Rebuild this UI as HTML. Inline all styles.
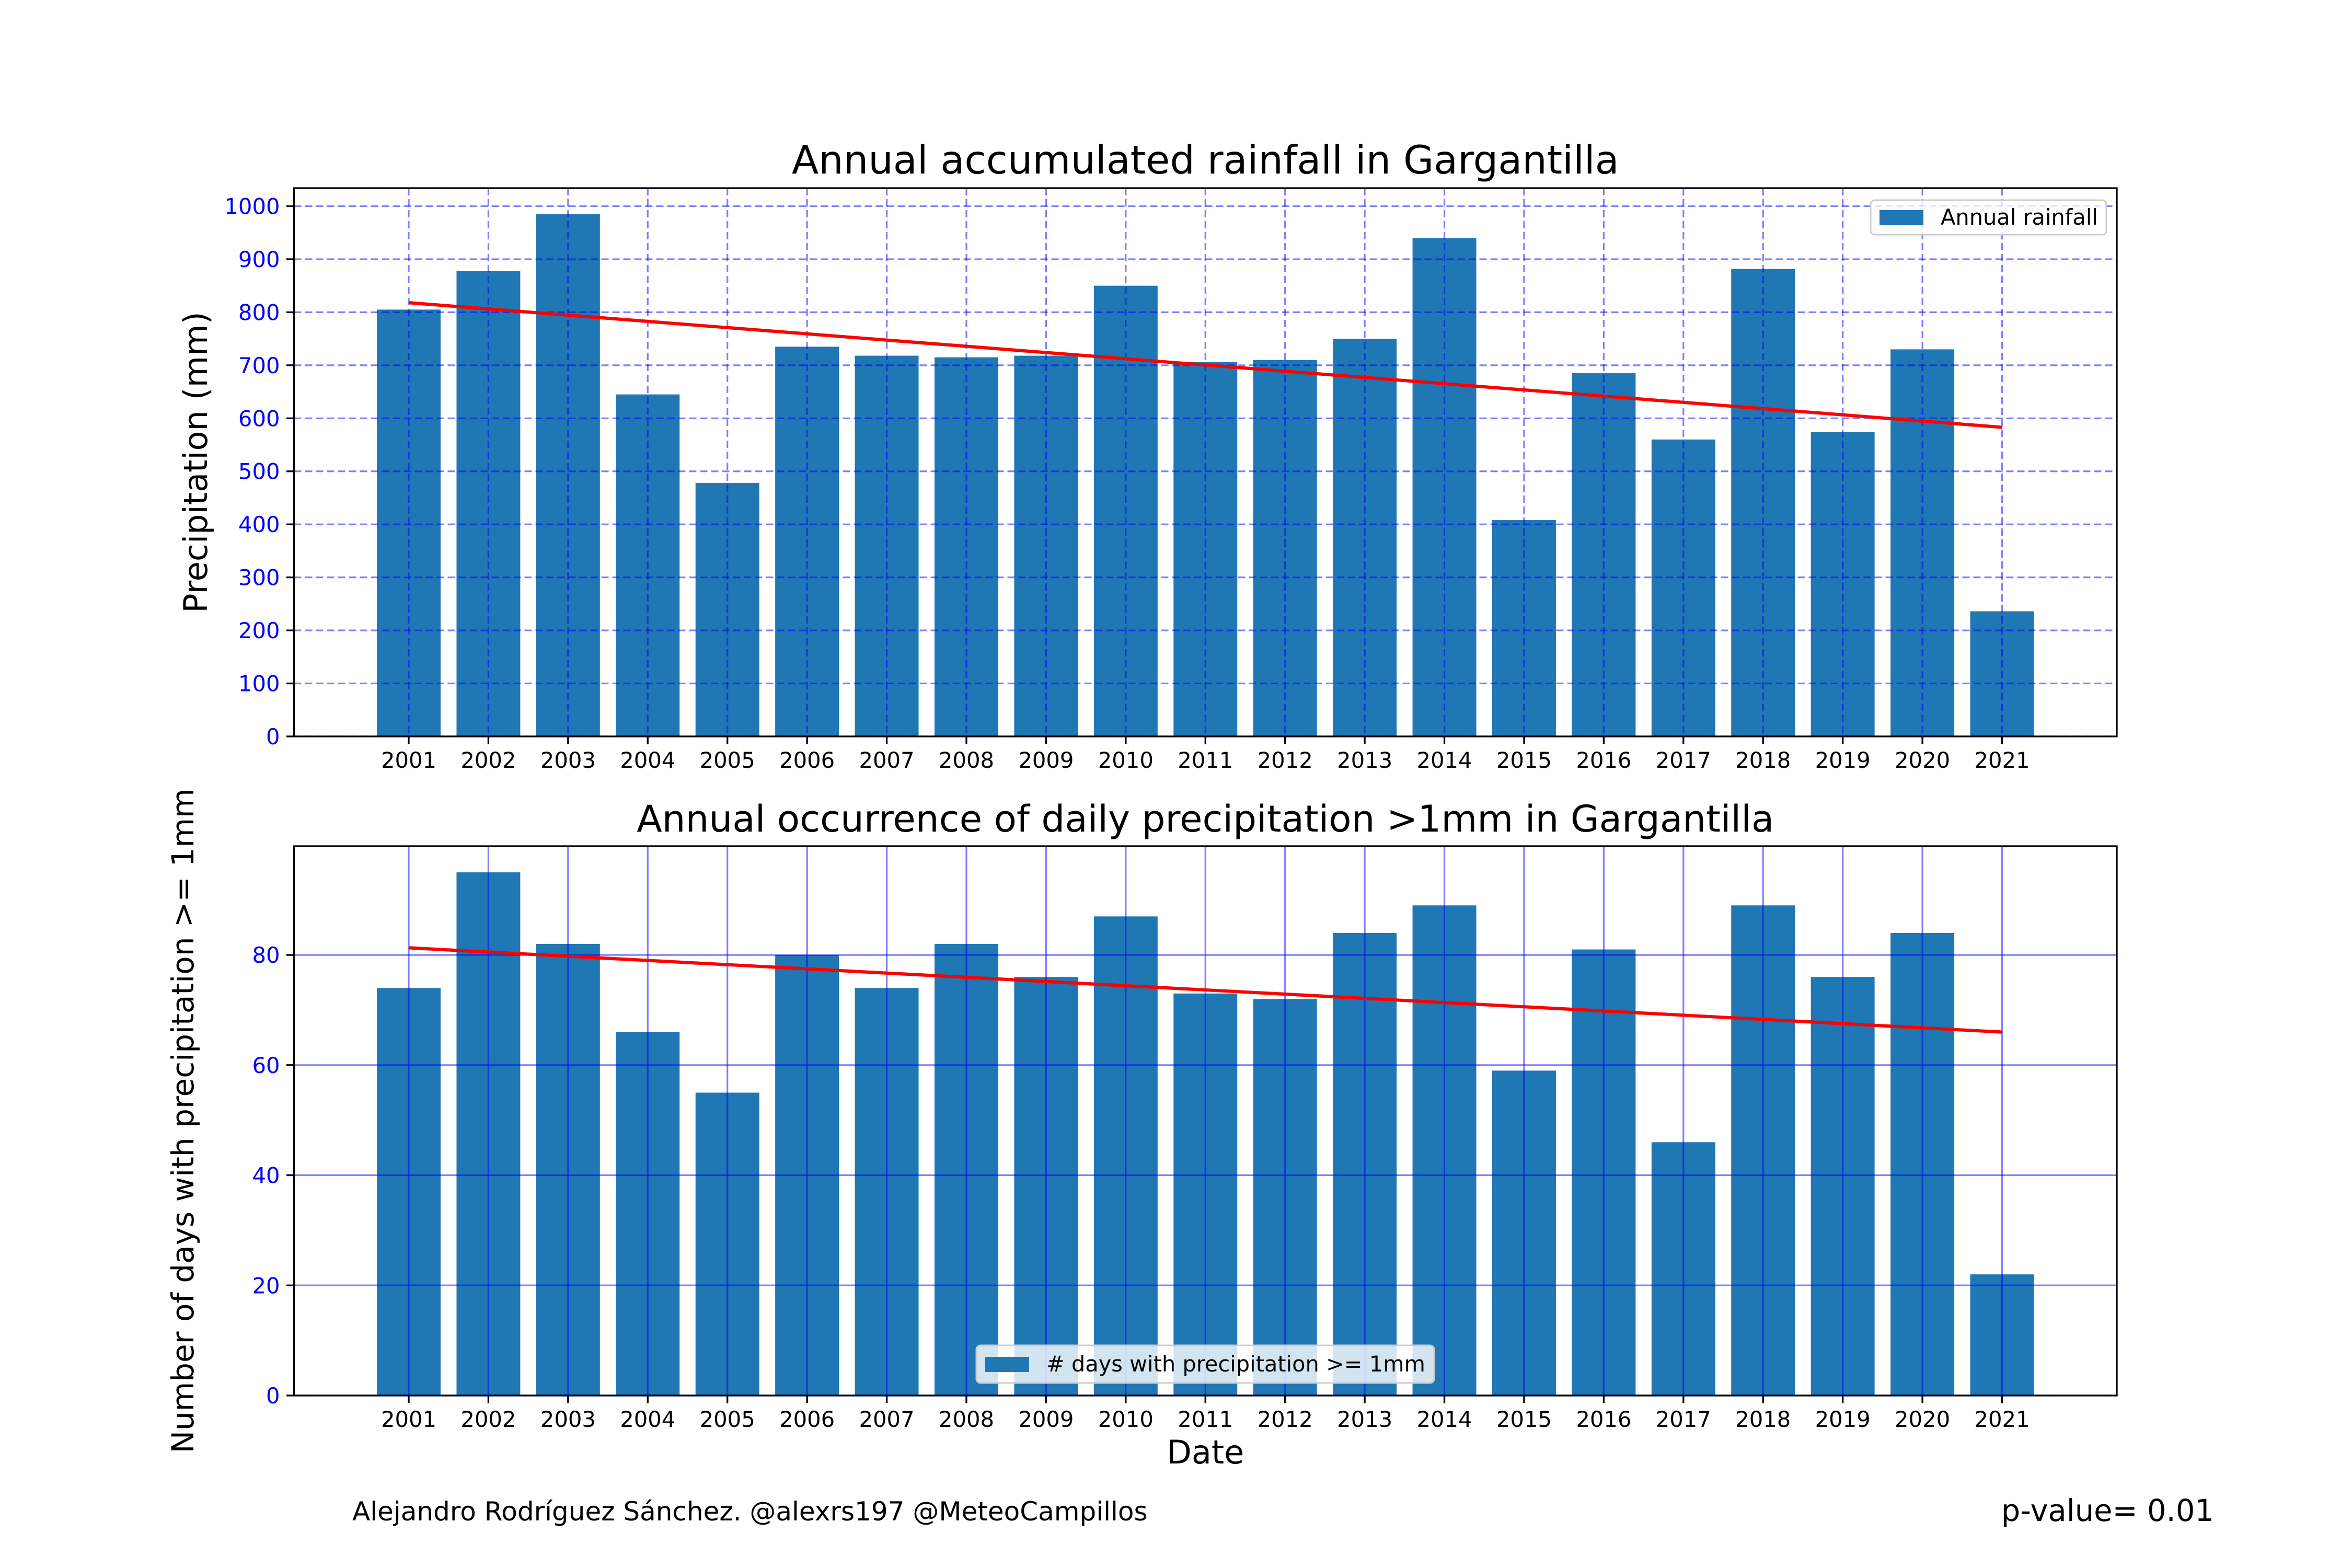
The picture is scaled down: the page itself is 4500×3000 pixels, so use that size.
<!DOCTYPE html>
<html><head><meta charset="utf-8"><style>
html,body{margin:0;padding:0;background:#fff;}
svg{display:block;font-family:"DejaVu Sans","Liberation Sans",sans-serif;}
</style></head><body>
<svg id="fig" width="4500" height="3000" viewBox="0 0 4500 3000" xmlns="http://www.w3.org/2000/svg">
<rect width="4500" height="3000" fill="#fff"/>
</svg>
<script>
const years = [2001,2002,2003,2004,2005,2006,2007,2008,2009,2010,2011,2012,2013,2014,2015,2016,2017,2018,2019,2020,2021];
const rainfall = [805,878,985,645,478,735,718,715,718,850,706,710,750,940,408,685,560,882,574,730,236];
const rainTrend = [818,583];
const rainTicks = [0,100,200,300,400,500,600,700,800,900,1000];
const days = [74,95,82,66,55,80,74,82,76,87,73,72,84,89,59,81,46,89,76,84,22];
const daysTrend = [81.3,66];
const dayTicks = [0,20,40,60,80];

const NS = 'http://www.w3.org/2000/svg';
const svg = document.getElementById('fig');
function mk(tag, attrs, parent, txt){
  const e = document.createElementNS(NS, tag);
  for (const k in attrs) e.setAttribute(k, attrs[k]);
  if (txt !== undefined) e.textContent = txt;
  (parent || svg).appendChild(e);
  return e;
}
const L = 562.5, R = 4050;
const xmin = years[0] - 1.44, xmax = years[years.length-1] + 1.44;
function xs(v){ return L + (v - xmin) / (xmax - xmin) * (R - L); }
const barW = 0.8 * (R - L) / (xmax - xmin);

function panel(cfg){
  const {top, bot, ymax, vals, trend, ticks, dashed, title, ylabel, legend, name} = cfg;
  const ys = v => bot - v / ymax * (bot - top);
  const g = mk('g', {});
  
  
  vals.forEach((v, i) => {
    const r = mk('rect', {x: xs(years[i]) - barW/2, y: ys(v), width: barW, height: ys(0) - ys(v), fill: '#1f77b4'}, g);
    
    
  });
  const da = dashed ? '14,7' : 'none';
  years.forEach(y => {
    const l = mk('line', {x1: xs(y), x2: xs(y), y1: top, y2: bot, stroke: 'blue', 'stroke-opacity': 0.5, 'stroke-width': 3.2, 'stroke-dasharray': da}, g);
    
    
  });
  ticks.forEach(t => {
    const l = mk('line', {x1: L, x2: R, y1: ys(t), y2: ys(t), stroke: 'blue', 'stroke-opacity': 0.5, 'stroke-width': 3.2, 'stroke-dasharray': da}, g);
    
    
  });
  const tl = mk('line', {x1: xs(years[0]), y1: ys(trend[0]), x2: xs(years[years.length-1]), y2: ys(trend[1]), stroke: 'red', 'stroke-width': 6.2}, g);
  
  
  const fr = mk('rect', {x: L, y: top, width: R - L, height: bot - top, fill: 'none', stroke: '#000', 'stroke-width': 3.3}, g);
  
  
  years.forEach(y => {
    mk('line', {x1: xs(y), x2: xs(y), y1: bot, y2: bot + 14.6, stroke: '#000', 'stroke-width': 3.3}, g);
    const t = mk('text', {x: xs(y), y: bot + 60, 'text-anchor': 'middle', 'font-size': 41.7, fill: '#000'}, g, String(y));
    
    
  });
  ticks.forEach(v => {
    mk('line', {x1: L - 14.6, x2: L, y1: ys(v), y2: ys(v), stroke: '#000', 'stroke-width': 3.3}, g);
    const t = mk('text', {x: L - 27, y: ys(v) + 15, 'text-anchor': 'end', 'font-size': 41.7, fill: 'blue'}, g, String(v));
    
    
  });
  const tt = mk('text', {x: (L + R)/2, y: top - 28, 'text-anchor': 'middle', 'font-size': cfg.tsize, fill: '#000'}, g, title);
  
  
  const cy = (top + bot)/2;
  const yl = mk('text', {x: cfg.ylx, y: cy, 'text-anchor': 'middle', 'font-size': cfg.ylsize, fill: '#000', transform: 'rotate(-90 ' + cfg.ylx + ' ' + cy + ')'}, g, ylabel);
  
  
  const lg = mk('g', {}, g);
  
  
  mk('rect', {x: legend.x, y: legend.y, width: legend.w, height: legend.h, rx: 8, fill: '#fff', 'fill-opacity': 0.8, stroke: '#ccc', 'stroke-width': 3}, lg);
  mk('rect', {x: legend.x + 17, y: legend.y + legend.h/2 - 14, width: 84, height: 29, fill: '#1f77b4'}, lg);
  const lt = mk('text', {x: legend.x + 134, y: legend.y + legend.h/2 + 14, 'font-size': 41.5, fill: '#000'}, lg, legend.label);
  
  
}

panel({name: 'rainfall-chart', top: 360, bot: 1409, ymax: 1034, vals: rainfall, trend: rainTrend, ticks: rainTicks, dashed: true,
  title: 'Annual accumulated rainfall in Gargantilla', tsize: 75, ylabel: 'Precipitation (mm)', ylx: 396, ylsize: 62,
  legend: {x: 3579, y: 383, w: 451, h: 66, label: 'Annual rainfall'}});
panel({name: 'days-chart', top: 1619, bot: 2670, ymax: 99.75, vals: days, trend: daysTrend, ticks: dayTicks, dashed: false,
  title: 'Annual occurrence of daily precipitation >1mm in Gargantilla', tsize: 70.8, ylabel: 'Number of days with precipitation >= 1mm', ylx: 370, ylsize: 58,
  legend: {x: 1868, y: 2574, w: 876, h: 72, label: '# days with precipitation >= 1mm'}});

const xl = mk('text', {x: (L + R)/2, y: 2800, 'text-anchor': 'middle', 'font-size': 62, fill: '#000'}, svg, 'Date');


const cr = mk('text', {x: 674, y: 2909, 'font-size': 50, fill: '#000'}, svg, 'Alejandro Rodríguez Sánchez. @alexrs197 @MeteoCampillos');


const pv = mk('text', {x: 4236, y: 2910, 'text-anchor': 'end', 'font-size': 57.5, fill: '#000'}, svg, 'p-value= 0.01');


</script>
</body></html>
